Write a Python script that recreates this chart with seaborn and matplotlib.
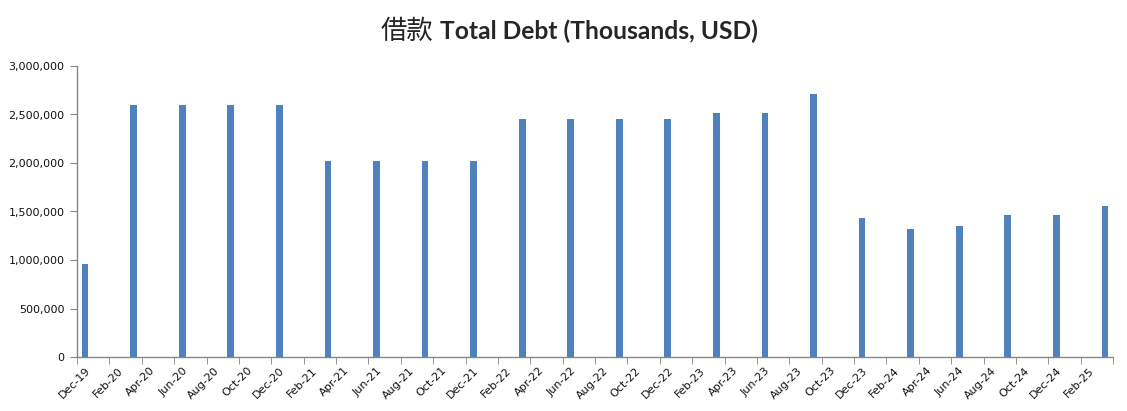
import matplotlib
matplotlib.use('Agg')
import matplotlib.pyplot as plt
import matplotlib.ticker as mticker
import pandas as pd
import seaborn as sns

# monthly axis Dec-19 .. Mar-25, values only at quarter ends
months = pd.date_range('2019-12-01', '2025-03-01', freq='MS').strftime('%b-%y').tolist()
quarters = ['Dec-19', 'Mar-20', 'Jun-20', 'Sep-20', 'Dec-20', 'Mar-21', 'Jun-21', 'Sep-21',
            'Dec-21', 'Mar-22', 'Jun-22', 'Sep-22', 'Dec-22', 'Mar-23', 'Jun-23', 'Sep-23',
            'Dec-23', 'Mar-24', 'Jun-24', 'Sep-24', 'Dec-24', 'Mar-25']
total_debt = [960000, 2600000, 2600000, 2600000, 2600000, 2020000, 2020000, 2020000,
              2020000, 2455000, 2455000, 2455000, 2455000, 2515000, 2515000, 2715000,
              1430000, 1320000, 1350000, 1460000, 1460000, 1555000]
y_ticks = [0, 500000, 1000000, 1500000, 2000000, 2500000, 3000000]

df = pd.DataFrame({'month': quarters, 'debt': total_debt})

sns.set_style('white')
plt.rcParams['font.family'] = ['DejaVu Sans', 'Noto Sans CJK SC']

fig = plt.figure(figsize=(11.27, 4.11), dpi=100)
ax = fig.add_axes([77 / 1127, 54 / 411, 1036 / 1127, 291 / 411])

sns.barplot(data=df, x='month', y='debt', order=months, color='#4F81BD',
            saturation=1, width=0.42, linewidth=0, ax=ax)

ax.set_xlim(-0.5, len(months) - 0.5)
ax.set_ylim(0, 3000000)
ax.set_yticks(y_ticks)
ax.yaxis.set_major_formatter(mticker.FuncFormatter(lambda v, p: f'{int(v):,}'))

# labels every second month, tick marks on category boundaries
ax.set_xticks(range(0, len(months), 2))
ax.set_xticklabels(months[::2], rotation=45, ha='right', rotation_mode='anchor')
ax.set_xticks([i - 0.5 for i in range(0, len(months) + 1, 2)], minor=True)
ax.tick_params(axis='x', which='major', length=0, pad=6, labelsize=8)
ax.tick_params(axis='x', which='minor', length=5, direction='out', color='#868686')
ax.tick_params(axis='y', length=5, direction='out', color='#868686', labelsize=8, pad=4)
ax.tick_params(axis='both', labelcolor='#111111')
ax.xaxis.set_tick_params(bottom=True, which='both')
ax.yaxis.set_tick_params(left=True)

for side in ['top', 'right']:
    ax.spines[side].set_visible(False)
for side in ['left', 'bottom']:
    ax.spines[side].set_color('#868686')
    ax.spines[side].set_linewidth(1)

ax.set_xlabel('')
ax.set_ylabel('')

fig.text(433 / 1127, 1 - 31 / 411, '借款', ha='right', va='center', fontsize=19,
         family=['Noto Sans CJK SC', 'DejaVu Sans'])
fig.text(440 / 1127, 1 - 31 / 411, 'Total Debt (Thousands, USD)', ha='left', va='center',
         fontsize=17.7, fontweight='bold', family=['Lato', 'DejaVu Sans'])

fig.savefig('out.png', dpi=100)
